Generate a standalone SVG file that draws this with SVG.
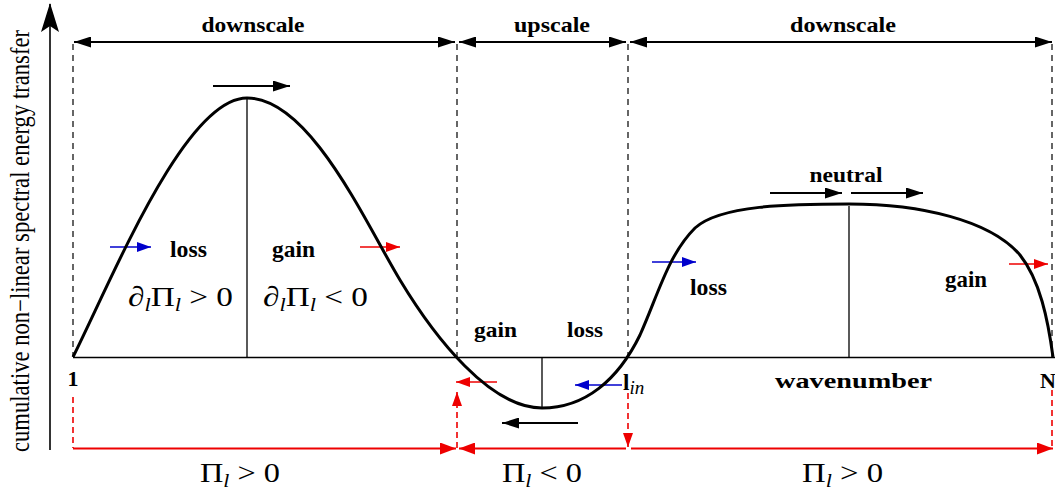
<svg xmlns="http://www.w3.org/2000/svg" width="1055" height="490" viewBox="0 0 1055 490">
<style>
.bl{font-family:"Liberation Serif","Times New Roman",serif;font-weight:bold;font-size:21px;fill:#000}
.lg{font-size:24px}
.md{font-size:22px}
.mt{font-family:"Liberation Serif","Times New Roman",serif;font-size:28px;fill:#000}
.ax{font-family:"Liberation Serif","Times New Roman",serif;font-size:22px;fill:#000}
.sub{font-style:italic;font-size:19px}
.dsh{stroke:#000;stroke-width:1.2;stroke-dasharray:6,5;fill:none}
.rdsh{stroke:#e00;stroke-width:1.6;stroke-dasharray:6,4;fill:none}
.thin{stroke:#000;stroke-width:1.3;fill:none}
</style>
<defs>
<marker id="ak" markerWidth="17" markerHeight="11" refX="17" refY="5.5" orient="auto-start-reverse" markerUnits="userSpaceOnUse"><path d="M0,0 L17,5.5 L0,11 z" fill="#000"/></marker>
<marker id="ar" markerWidth="14" markerHeight="10" refX="14" refY="5" orient="auto-start-reverse" markerUnits="userSpaceOnUse"><path d="M0,0 L14,5 L0,10 z" fill="#e00"/></marker>
<marker id="ab" markerWidth="14" markerHeight="10" refX="14" refY="5" orient="auto-start-reverse" markerUnits="userSpaceOnUse"><path d="M0,0 L14,5 L0,10 z" fill="#00c"/></marker>
<marker id="arl" markerWidth="16" markerHeight="12" refX="16" refY="6" orient="auto-start-reverse" markerUnits="userSpaceOnUse"><path d="M0,0 L16,6 L0,12 z" fill="#e00"/></marker>
</defs>
<rect width="1055" height="490" fill="#fff"/>

<g id="axes">
<line x1="50" y1="450" x2="50" y2="4" stroke="#000" stroke-width="1.6"/>
<path d="M50,3 L59,32 L50,26 L41,32 z" fill="#000"/>
<line x1="73" y1="357.5" x2="1055" y2="357.5" stroke="#000" stroke-width="1.5"/>
<text class="ax" transform="translate(29,241) scale(1.2,1) rotate(-90)" text-anchor="middle" textLength="422" lengthAdjust="spacingAndGlyphs">cumulative non−linear spectral energy transfer</text>
</g>

<g id="boundaries">
<line class="dsh" x1="73" y1="44" x2="73" y2="357"/>
<line class="dsh" x1="457" y1="44" x2="457" y2="357"/>
<line class="dsh" x1="628" y1="44" x2="628" y2="357"/>
<line class="dsh" x1="1052" y1="44" x2="1052" y2="357"/>
</g>

<g id="connectors">
<line x1="74" y1="42" x2="455" y2="42" stroke="#000" stroke-width="1.8" marker-start="url(#ak)" marker-end="url(#ak)"/>
<line x1="459" y1="42" x2="626" y2="42" stroke="#000" stroke-width="1.8" marker-start="url(#ak)" marker-end="url(#ak)"/>
<line x1="630" y1="42" x2="1052" y2="42" stroke="#000" stroke-width="1.8" marker-start="url(#ak)" marker-end="url(#ak)"/>
<line x1="213" y1="86" x2="290" y2="86" stroke="#000" stroke-width="1.8" marker-end="url(#ak)"/>
<line x1="770" y1="193" x2="842" y2="193" stroke="#000" stroke-width="1.8" marker-end="url(#ak)"/>
<line x1="851" y1="193" x2="923" y2="193" stroke="#000" stroke-width="1.8" marker-end="url(#ak)"/>
<line x1="578" y1="423" x2="502" y2="423" stroke="#000" stroke-width="1.8" marker-end="url(#ak)"/>
<line x1="110" y1="247" x2="151" y2="247" stroke="#00c" stroke-width="1.6" marker-end="url(#ab)"/>
<line x1="360" y1="247" x2="400" y2="247" stroke="#e00" stroke-width="1.6" marker-end="url(#ar)"/>
<line x1="652" y1="262" x2="696" y2="262" stroke="#00c" stroke-width="1.6" marker-end="url(#ab)"/>
<line x1="1009" y1="264" x2="1048" y2="264" stroke="#e00" stroke-width="1.6" marker-end="url(#ar)"/>
<line x1="497" y1="382" x2="456" y2="382" stroke="#e00" stroke-width="1.6" marker-end="url(#ar)"/>
<line x1="622" y1="385" x2="575" y2="385" stroke="#00c" stroke-width="1.6" marker-end="url(#ab)"/>
<line class="rdsh" x1="73" y1="397" x2="73" y2="448"/>
<line class="rdsh" x1="1052" y1="390" x2="1052" y2="448"/>
<line class="rdsh" x1="457" y1="448" x2="457" y2="392" marker-end="url(#ar)"/>
<line class="rdsh" x1="628" y1="393" x2="628" y2="447" marker-end="url(#ar)"/>
<line x1="73" y1="448.5" x2="456" y2="448.5" stroke="#e00" stroke-width="2" marker-end="url(#arl)"/>
<line x1="459" y1="448.5" x2="626" y2="448.5" stroke="#e00" stroke-width="2" marker-start="url(#arl)"/>
<line x1="631" y1="448.5" x2="1053" y2="448.5" stroke="#e00" stroke-width="2" marker-end="url(#arl)"/>
</g>

<g id="curve">
<path d="M73,357 C113,277 185,98 247,98 C310,98 365,222 400,280 C435,338 490,408 542,408 C585,408 618,380 640,335 C658,295 668,255 695,228 C720,205 790,204 849,204 C920,204 990,220 1020,255 C1040,280 1048,320 1053,357" fill="none" stroke="#000" stroke-width="3"/>
<line class="thin" x1="247" y1="99" x2="247" y2="357"/>
<line class="thin" x1="542" y1="357" x2="542" y2="407"/>
<line class="thin" x1="849" y1="206" x2="849" y2="357"/>
</g>

<g id="labels">
<text class="bl" x="253" y="32" text-anchor="middle" textLength="103" lengthAdjust="spacingAndGlyphs">downscale</text>
<text class="bl" x="552" y="32" text-anchor="middle" textLength="76" lengthAdjust="spacingAndGlyphs">upscale</text>
<text class="bl" x="843" y="32" text-anchor="middle" textLength="106" lengthAdjust="spacingAndGlyphs">downscale</text>
<text class="bl md" x="846" y="182" text-anchor="middle" textLength="73" lengthAdjust="spacingAndGlyphs">neutral</text>
<text class="bl lg" x="188.5" y="257" text-anchor="middle" textLength="37" lengthAdjust="spacingAndGlyphs">loss</text>
<text class="bl lg" x="293.5" y="257" text-anchor="middle" textLength="43" lengthAdjust="spacingAndGlyphs">gain</text>
<text class="bl lg" x="708.5" y="295" text-anchor="middle" textLength="37" lengthAdjust="spacingAndGlyphs">loss</text>
<text class="bl lg" x="966" y="287" text-anchor="middle" textLength="42" lengthAdjust="spacingAndGlyphs">gain</text>
<text class="bl md" x="495.5" y="337" text-anchor="middle" textLength="43" lengthAdjust="spacingAndGlyphs">gain</text>
<text class="bl md" x="585" y="337" text-anchor="middle" textLength="36" lengthAdjust="spacingAndGlyphs">loss</text>
<text class="bl md" x="853.5" y="388" text-anchor="middle" textLength="157" lengthAdjust="spacingAndGlyphs">wavenumber</text>
<text class="bl md" x="73" y="386" text-anchor="middle">1</text>
<text class="bl md" x="1040" y="388">N</text>
<text class="bl" x="623" y="390" style="font-size:23px">l<tspan class="sub" font-weight="normal" dy="4">in</tspan></text>
<text class="mt" x="128" y="306" textLength="105" lengthAdjust="spacingAndGlyphs">∂<tspan class="sub" dy="5">l</tspan><tspan dy="-5">Π</tspan><tspan class="sub" dy="5">l</tspan><tspan dy="-5"> &gt; 0</tspan></text>
<text class="mt" x="263" y="306" textLength="105" lengthAdjust="spacingAndGlyphs">∂<tspan class="sub" dy="5">l</tspan><tspan dy="-5">Π</tspan><tspan class="sub" dy="5">l</tspan><tspan dy="-5"> &lt; 0</tspan></text>
<text class="mt" x="200" y="482" textLength="80" lengthAdjust="spacingAndGlyphs">Π<tspan class="sub" dy="5">l</tspan><tspan dy="-5"> &gt; 0</tspan></text>
<text class="mt" x="502" y="482" textLength="80" lengthAdjust="spacingAndGlyphs">Π<tspan class="sub" dy="5">l</tspan><tspan dy="-5"> &lt; 0</tspan></text>
<text class="mt" x="802" y="482" textLength="81" lengthAdjust="spacingAndGlyphs">Π<tspan class="sub" dy="5">l</tspan><tspan dy="-5"> &gt; 0</tspan></text>
</g>
</svg>
